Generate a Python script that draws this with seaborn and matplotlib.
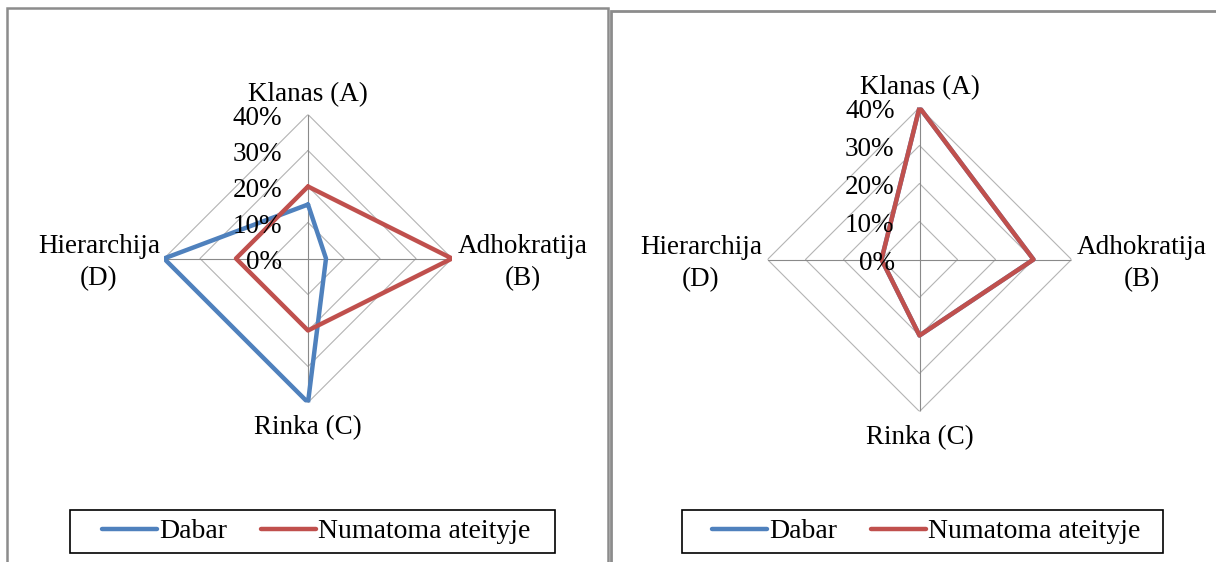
import numpy as np
import pandas as pd
import matplotlib
matplotlib.use("Agg")
import matplotlib.pyplot as plt
from matplotlib.lines import Line2D
from matplotlib.patches import Rectangle
import seaborn as sns

# Culture-type axes (clockwise from the top)
categories = ["Klanas (A)", "Adhokratija\n(B)", "Rinka (C)", "Hierarchija\n(D)"]
series_names = ["Dabar", "Numatoma ateityje"]
levels = [0, 10, 20, 30, 40]
level_labels = ["0%", "10%", "20%", "30%", "40%"]

# Left profile (percent)
left_dabar = [15, 5, 40, 40]
left_ateityje = [20, 40, 20, 20]
# Right profile (percent)
right_dabar = [40, 30, 20, 10]
right_ateityje = [40, 30, 20, 10]

colors = {"Dabar": "#4F81BD", "Numatoma ateityje": "#C0504D"}

sns.set_theme(style="white")
plt.rcParams["font.family"] = ["Liberation Serif", "DejaVu Serif"]
plt.rcParams["text.color"] = "black"

W, H = 1216, 562
fig = plt.figure(figsize=(W / 100, H / 100), dpi=100)
fig.patch.set_facecolor("white")

theta = np.linspace(0, 2 * np.pi, len(categories), endpoint=False)
theta_closed = np.append(theta, 2 * np.pi)
px = 72 / 100.0  # points per pixel


def fig_rect(x0, y0, x1, y1, **kw):
    """Rectangle given in pixel coordinates measured from the top-left."""
    return Rectangle((x0 / W, 1 - y1 / H), (x1 - x0) / W, (y1 - y0) / H,
                     transform=fig.transFigure, fill=False, **kw)


def long_frame(dabar, ateityje):
    rows = []
    for name, vals in zip(series_names, [dabar, ateityje]):
        vals_closed = list(vals) + [vals[0]]
        for t, v in zip(theta_closed, vals_closed):
            rows.append({"theta": t, "value": v / 100.0, "series": name})
    return pd.DataFrame(rows)


def radar(rect, dabar, ateityje, label_offsets, tick_dx):
    ax = fig.add_axes(rect, projection="polar")
    ax.set_theta_zero_location("N")
    ax.set_theta_direction(-1)
    ax.set_ylim(0, 0.40)
    ax.set_xticks([])
    ax.set_yticks([])
    ax.grid(False)
    ax.spines["polar"].set_visible(False)
    ax.set_facecolor("none")

    # straight-edged grid rings and spokes
    for lv in levels[1:]:
        ax.plot(theta_closed, [lv / 100.0] * len(theta_closed),
                color="#b4b4b4", lw=0.8, zorder=1)
    for t in theta:
        ax.plot([t, t], [0, 0.40], color="#8a8a8a", lw=0.8, zorder=1)

    df = long_frame(dabar, ateityje)
    sns.lineplot(data=df, x="theta", y="value", hue="series",
                 hue_order=series_names, palette=colors, sort=False,
                 estimator=None, linewidth=3.2, legend=False, ax=ax,
                 zorder=3)
    ax.set_xlabel("")
    ax.set_ylabel("")

    # radial scale labels along the top spoke
    for lv, txt in zip(levels, level_labels):
        ax.annotate(txt, xy=(0, lv / 100.0), xytext=(tick_dx, -4 * px),
                    textcoords="offset points", ha="right", va="center",
                    fontsize=19.5, color="black", zorder=4,
                    annotation_clip=False)

    # category labels at the outer vertices
    aligns = [("center", "bottom"), ("left", "center"),
              ("center", "center"), ("right", "center")]
    for t, cat, (ha, va), off in zip(theta, categories, aligns, label_offsets):
        ax.annotate(cat, xy=(t, 0.40), xytext=off, textcoords="offset points",
                    ha=ha, va=va, multialignment="center", fontsize=19.5,
                    color="black", linespacing=1.4, annotation_clip=False)
    return ax


# panel frames
fig.patches.append(fig_rect(7, 8, 608, H + 10, edgecolor="#8c8c8c", lw=1.8,
                            zorder=0))
fig.patches.append(fig_rect(611, 10.5, W + 10, H + 10, edgecolor="#8c8c8c",
                            lw=2.0, zorder=0))

radar([164 / W, 159.5 / H, 288 / W, 288 / H], left_dabar, left_ateityje,
      [(0, 7 * px), (6 * px, -4 * px), (0, -25 * px), (-4 * px, -4 * px)],
      -26 * px)
radar([767.5 / W, 150.5 / H, 304 / W, 304 / H], right_dabar, right_ateityje,
      [(0, 7 * px), (5.5 * px, -4 * px), (0, -26 * px), (-5.5 * px, -4 * px)],
      -25 * px)

# legends with their own boxes
handles = [Line2D([], [], color=colors[n], lw=3.2) for n in series_names]
for cx, (bx0, bx1) in ((316, (70, 555)), (926, (682, 1163))):
    leg = fig.legend(handles, series_names, loc="center",
                     bbox_to_anchor=(cx / W, 1 - 531.5 / H), ncol=2,
                     fontsize=20, frameon=False, handlelength=2.0,
                     handletextpad=0.05, columnspacing=1.22, borderpad=0,
                     borderaxespad=0)
    for txt in leg.get_texts():
        txt.set_color("black")
    fig.patches.append(fig_rect(bx0, 510, bx1, 553, edgecolor="black",
                                lw=1.2, zorder=2))

fig.savefig("out.png", dpi=100, facecolor="white")
